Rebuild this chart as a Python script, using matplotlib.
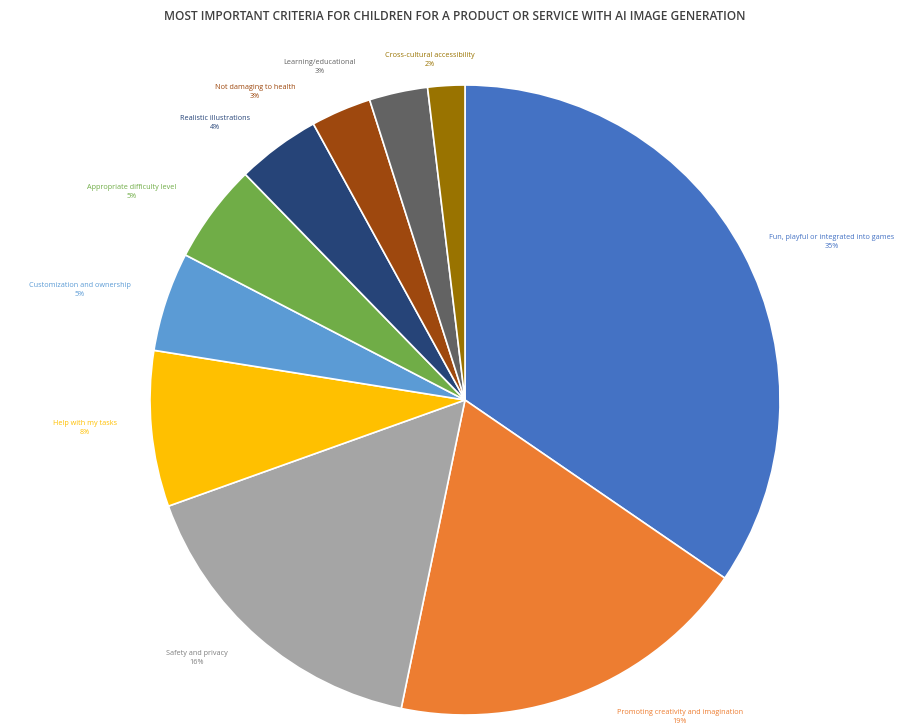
import matplotlib
matplotlib.use("Agg")
import matplotlib.pyplot as plt

categories = [
    "Fun, playful or integrated into games",
    "Promoting creativity and imagination",
    "Safety and privacy",
    "Help with my tasks",
    "Customization and ownership",
    "Appropriate difficulty level",
    "Realistic illustrations",
    "Not damaging to health",
    "Learning/educational",
    "Cross-cultural accessibility",
]
values = [34.6, 18.7, 16.3, 8.0, 5.1, 5.1, 4.3, 3.1, 3.0, 1.9]
colors = ["#4472C4", "#ED7D31", "#A5A5A5", "#FFC000", "#5B9BD5",
          "#70AD47", "#264478", "#9E480E", "#636363", "#997300"]
label_colors = ["#4472C4", "#ED7D31", "#7F7F7F", "#FFC000", "#5B9BD5",
                "#70AD47", "#264478", "#9E480E", "#636363", "#997300"]
# label anchor positions (pixels from top-left)
label_pos = [(832, 242), (680, 717), (197, 658), (85, 428), (80, 290),
             (132, 192), (215, 123), (255, 92), (320, 67), (430, 60)]

W, H = 910, 725
fig = plt.figure(figsize=(W / 100, H / 100), dpi=100)
ax = fig.add_axes([0, 0, 1, 1])

ax.pie(values, colors=colors, startangle=90, counterclock=False,
       center=(465, H - 400), radius=315,
       wedgeprops=dict(edgecolor="white", linewidth=1.2), frame=True)
ax.set_xlim(0, W)
ax.set_ylim(0, H)
ax.set_aspect("equal")
ax.axis("off")

total = sum(values)
for cat, v, c, (x, y) in zip(categories, values, label_colors, label_pos):
    ax.text(x, H - y, f"{cat}\n{round(v / total * 100):.0f}%", ha="center", va="center",
            fontsize=5.2, color=c, family="Open Sans", linespacing=1.5)

fig.text(0.5, 1 - 17 / H,
         "MOST IMPORTANT CRITERIA FOR CHILDREN FOR A PRODUCT OR SERVICE WITH AI IMAGE GENERATION",
         ha="center", va="center", fontsize=8.6, color="#404040",
         family="Open Sans", fontweight="semibold")

fig.savefig("out.png", dpi=100, facecolor="white")
